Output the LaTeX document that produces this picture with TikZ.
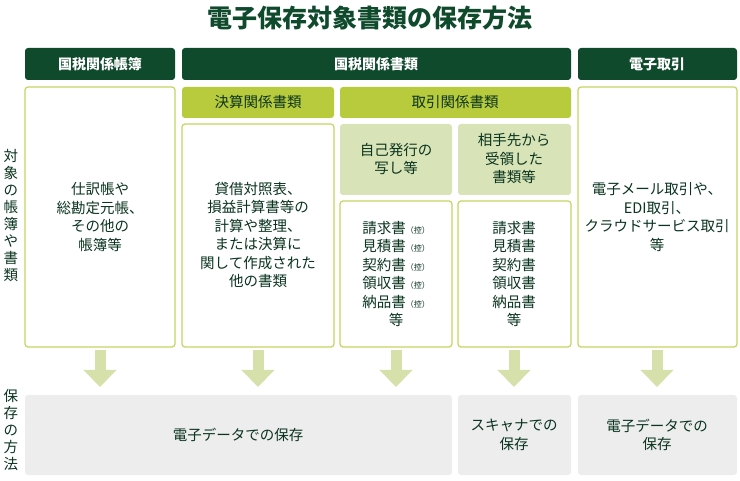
\documentclass[tikz,border=0pt]{standalone}
\usepackage{fontspec}
\setmainfont{Noto Sans CJK JP}
\usetikzlibrary{arrows.meta}
\definecolor{dgreen}{HTML}{0F4A2C}
\definecolor{lime}{HTML}{B8CB3C}
\definecolor{pale}{HTML}{D8E4B8}
\definecolor{rim}{HTML}{C5D562}
\definecolor{arr}{HTML}{D6E0AA}
\definecolor{grayb}{HTML}{EDEDED}
\newcommand{\ctl}{{\footnotesize（控）}}
\tikzset{
  x=1pt, y=-1pt,
  head/.style={fill=dgreen, rounded corners=3pt},
  htxt/.style={text=white, font=\bfseries\fontsize{14}{16}\selectfont},
  sub/.style={fill=lime, rounded corners=3pt},
  kind/.style={fill=pale, rounded corners=3pt},
  frame/.style={draw=rim, line width=1.2pt, fill=white, rounded corners=3pt},
  ground/.style={fill=grayb, rounded corners=3pt},
  txt/.style={align=center, text=dgreen!70!black, font=\fontsize{14.5}{18.5}\selectfont},
  down/.style={draw=arr, line width=11pt, -{Triangle[width=32pt,length=17pt]}}
}
\begin{document}
\begin{tikzpicture}
\useasboundingbox (0,0) rectangle (740,481);
\node[text=dgreen, font=\bfseries\fontsize{25}{27}\selectfont] (title) at (370,18) {電子保存対象書類の保存方法};

% headers
\fill[head] (25,48) rectangle (175,80);
\node[htxt] (hbook) at (100,64) {国税関係帳簿};
\fill[head] (182,48) rectangle (571,80);
\node[htxt] (hdoc) at (376,64) {国税関係書類};
\fill[head] (578,48) rectangle (737,80);
\node[htxt] (hedi) at (657,64) {電子取引};

\fill[sub] (182,87) rectangle (334,118);
\node[txt] (hfin) at (258,102) {決算関係書類};
\fill[sub] (340,87) rectangle (571,118);
\node[txt] (htrade) at (455,102) {取引関係書類};

\fill[kind] (340,124) rectangle (452,195);
\node[txt] (hown) at (396,159) {自己発行の\\写し等};
\fill[kind] (458,124) rectangle (571,195);
\node[txt] (hrecv) at (514,159) {相手先から\\受領した\\書類等};

% content boxes
\draw[frame] (25,87) rectangle (175,347);
\node[txt] (cbook) at (100,217) {仕訳帳や\\総勘定元帳、\\その他の\\帳簿等};
\draw[frame] (182,124) rectangle (334,347);
\node[txt] (cfin) at (258,235) {貸借対照表、\\損益計算書等の\\計算や整理、\\または決算に\\関して作成された\\他の書類};
\draw[frame] (340,201) rectangle (452,347);
\node[txt] (cown) at (396,274) {請求書\ctl\\見積書\ctl\\契約書\ctl\\領収書\ctl\\納品書\ctl\\等};
\draw[frame] (458,201) rectangle (571,347);
\node[txt] (crecv) at (514,274) {請求書\\見積書\\契約書\\領収書\\納品書\\等};
\draw[frame] (578,87) rectangle (737,347);
\node[txt] (cedi) at (657,217) {電子メール取引や、\\EDI取引、\\クラウドサービス取引\\等};

% side labels
\node[txt, font=\fontsize{14.5}{17}\selectfont] (lobj) at (11,215) {対\\象\\の\\帳\\簿\\や\\書\\類};
\node[txt, font=\fontsize{14.5}{17}\selectfont] (lway) at (11,430) {保\\存\\の\\方\\法};

% arrows
\foreach \x in {100,258,396,514,657}
  \draw[down] (\x,350) -- (\x,387);

% bottom
\fill[ground] (25,395) rectangle (452,475);
\node[txt] (bdata) at (238,435) {電子データでの保存};
\fill[ground] (458,395) rectangle (571,475);
\node[txt] (bscan) at (514,435) {スキャナでの\\保存};
\fill[ground] (578,395) rectangle (737,475);
\node[txt] (bedi) at (657,435) {電子データでの\\保存};
\end{tikzpicture}
\end{document}
